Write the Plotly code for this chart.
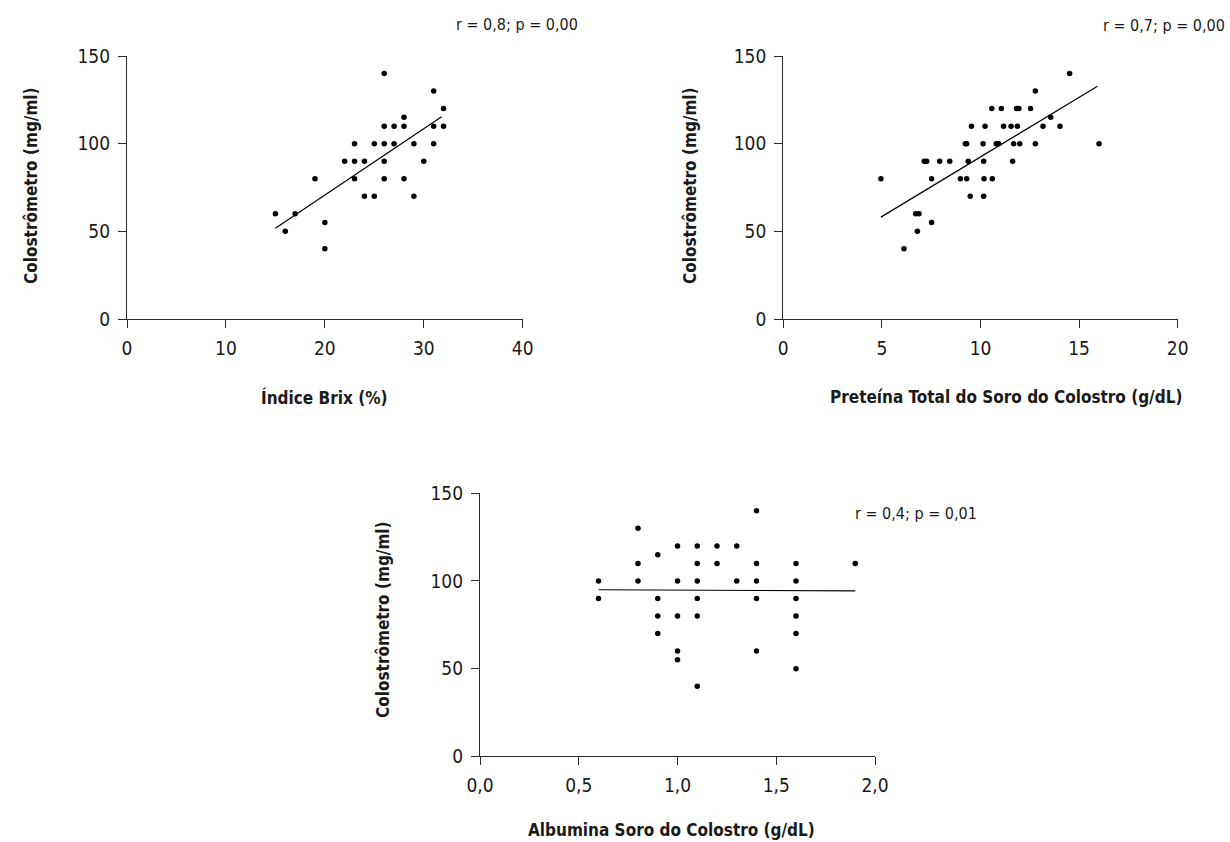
import plotly.graph_objects as go

W, H = 1230, 842

# ---------------- data ----------------
brix_x = [15, 16, 17, 19, 20, 20, 22, 23, 23, 23, 24, 24, 25, 25, 26, 26, 26, 26, 26,
          27, 27, 28, 28, 28, 29, 29, 30, 31, 31, 31, 32, 32]
brix_y = [60, 50, 60, 80, 55, 40, 90, 100, 90, 80, 90, 70, 100, 70, 140, 110, 100, 90, 80,
          110, 100, 115, 110, 80, 100, 70, 90, 130, 110, 100, 120, 110]
brix_fit_x = [15.0, 31.8]
brix_fit_y = [51.8, 115.4]

ptn_x = [4.95, 6.12, 6.71, 6.88, 6.80, 7.15, 7.27, 7.52, 7.52, 7.93, 8.44, 8.98, 9.23, 9.30,
         9.30, 9.38, 9.48, 9.54, 10.13, 10.16, 10.18, 10.16, 10.23, 10.57, 10.60, 10.80,
         10.92, 11.06, 11.17, 11.55, 11.63, 11.68, 11.87, 11.83, 11.95, 11.99, 12.54, 12.78,
         12.78, 13.17, 13.56, 14.03, 14.52, 16.01]
ptn_y = [80, 40, 60, 60, 50, 90, 90, 80, 55, 90, 90, 80, 100, 100,
         80, 90, 70, 110, 100, 90, 80, 70, 110, 120, 80, 100,
         100, 120, 110, 110, 90, 100, 110, 120, 120, 100, 120, 130,
         100, 110, 115, 110, 140, 100]
ptn_fit_x = [4.95, 15.93]
ptn_fit_y = [58.1, 132.7]

alb_x = [0.6, 0.6, 0.8, 0.8, 0.8, 0.9, 0.9, 0.9, 0.9, 1.0, 1.0, 1.0, 1.0, 1.0,
         1.1, 1.1, 1.1, 1.1, 1.1, 1.1, 1.2, 1.2, 1.3, 1.3, 1.4, 1.4, 1.4, 1.4, 1.4,
         1.6, 1.6, 1.6, 1.6, 1.6, 1.6, 1.9]
alb_y = [100, 90, 130, 110, 100, 115, 90, 80, 70, 120, 100, 80, 60, 55,
         120, 110, 100, 90, 80, 40, 120, 110, 120, 100, 140, 110, 100, 90, 60,
         110, 100, 90, 80, 70, 50, 110]
alb_fit_x = [0.6, 1.9]
alb_fit_y = [95.0, 94.3]

y_ticks = [0, 50, 100, 150]
brix_ticks = [0, 10, 20, 30, 40]
ptn_ticks = [0, 5, 10, 15, 20]
alb_ticks = [0.0, 0.5, 1.0, 1.5, 2.0]

y_title = "Colostrômetro (mg/ml)"
x_titles = ["Índice Brix (%)", "Preteína Total do Soro do Colostro (g/dL)",
            "Albumina Soro do Colostro (g/dL)"]
stats = ["r = 0,8; p = 0,00", "r = 0,7; p = 0,00", "r = 0,4; p = 0,01"]

# ---------------- style ----------------
FONT = "Liberation Sans Narrow, DejaVu Sans Condensed, Arial Narrow, sans-serif"
AX = "#2b2b2b"
TXT = "#1a1a1a"

fig = go.Figure()

panels = [
    (brix_x, brix_y, brix_fit_x, brix_fit_y, "x", "y"),
    (ptn_x, ptn_y, ptn_fit_x, ptn_fit_y, "x2", "y2"),
    (alb_x, alb_y, alb_fit_x, alb_fit_y, "x3", "y3"),
]
for xs, ys, fx, fy, xa, ya in panels:
    fig.add_trace(go.Scatter(x=xs, y=ys, mode="markers", xaxis=xa, yaxis=ya,
                             marker=dict(color="black", size=5.5), cliponaxis=False,
                             showlegend=False, hoverinfo="x+y"))
    fig.add_trace(go.Scatter(x=fx, y=fy, mode="lines", xaxis=xa, yaxis=ya,
                             line=dict(color="black", width=1.2),
                             showlegend=False, hoverinfo="skip"))


def px_x(v):
    return v / W


def px_y(v):
    return 1 - v / H


def axis_common():
    return dict(showline=True, linecolor=AX, linewidth=1.3, ticks="outside",
                ticklen=8, tickwidth=1.3, tickcolor=AX, showgrid=False,
                zeroline=False, tickfont=dict(family=FONT, size=19, color=TXT),
                ticklabelstandoff=4, fixedrange=True, automargin=False)


# pixel boxes: (left, right, top, bottom)
boxes = [(127, 522.7, 56, 319), (783.3, 1177.7, 56, 319), (480, 875, 493.3, 756.3)]
xranges = [[0, 40], [0, 20], [0, 2.0]]
xtickvals = [brix_ticks, ptn_ticks, alb_ticks]
xfmt = ["d", "d", ".1f"]

layout_axes = {}
for i, ((l, r, t, b), xr, tv, fm) in enumerate(zip(boxes, xranges, xtickvals, xfmt)):
    sfx = "" if i == 0 else str(i + 1)
    xa = axis_common()
    xa.update(domain=[px_x(l), px_x(r)], range=xr, tickvals=tv, tickformat=fm,
              anchor="y" + sfx)
    ya = axis_common()
    ya.update(domain=[px_y(b), px_y(t)], range=[0, 150], tickvals=y_ticks,
              anchor="x" + sfx)
    layout_axes["xaxis" + sfx] = xa
    layout_axes["yaxis" + sfx] = ya

annotations = []
# x axis titles
for txt, (cx, cy) in zip(x_titles, [(324, 397), (1006, 397), (671, 830)]):
    annotations.append(dict(text="<b>" + txt + "</b>", x=px_x(cx), y=px_y(cy),
                            xref="paper", yref="paper", showarrow=False,
                            xanchor="center", yanchor="middle",
                            font=dict(family=FONT, size=17, color=TXT)))
# y axis titles
for (cx, cy) in [(31, 186), (690, 186), (383, 620)]:
    annotations.append(dict(text="<b>" + y_title + "</b>", x=px_x(cx), y=px_y(cy),
                            xref="paper", yref="paper", showarrow=False, textangle=-90,
                            xanchor="center", yanchor="middle",
                            font=dict(family=FONT, size=17, color=TXT)))
# stats
for txt, (cx, cy, anc) in zip(stats, [(517, 25, "center"), (1227, 26, "right"),
                                      (916, 513, "center")]):
    annotations.append(dict(text=txt, x=px_x(cx), y=px_y(cy),
                            xref="paper", yref="paper", showarrow=False,
                            xanchor=anc, yanchor="middle",
                            font=dict(family=FONT, size=16, color=TXT)))

fig.update_layout(width=W, height=H, margin=dict(l=0, r=0, t=0, b=0, pad=0, autoexpand=False),
                  paper_bgcolor="white", plot_bgcolor="white",
                  separators=",.", annotations=annotations,
                  font=dict(family=FONT, color=TXT), **layout_axes)

fig.write_html("out.html", config={"displayModeBar": False},
               post_script="document.body.style.margin='0';document.body.style.overflow='hidden';")
